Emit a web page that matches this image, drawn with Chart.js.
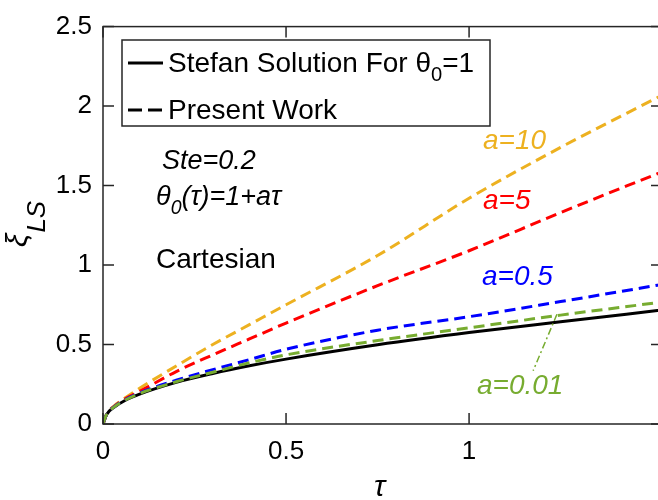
<!DOCTYPE html>
<html>
<head>
<meta charset="utf-8">
<script src="https://cdn.jsdelivr.net/npm/chart.js@4/dist/chart.umd.min.js"></script>
<style>
  html, body { margin: 0; padding: 0; background: #fff; overflow: hidden; }
  #wrap { width: 662px; height: 500px; }
</style>
</head>
<body>
<div id="wrap"><canvas id="c" width="662" height="500"></canvas></div>
<script>
// values
const tau = [0, 0.01, 0.03, 0.06, 0.1, 0.2, 0.3, 0.4, 0.5, 0.75, 1.0, 1.25, 1.52];
const stefan = [0, 0.06, 0.105, 0.148, 0.188, 0.262, 0.318, 0.366, 0.408, 0.498, 0.575, 0.643, 0.715];
const a10 = [0, 0.062, 0.113, 0.163, 0.225, 0.365, 0.5, 0.625, 0.75, 1.06, 1.42, 1.74, 2.06];
const a5 = [0, 0.062, 0.11, 0.157, 0.205, 0.33, 0.435, 0.535, 0.635, 0.87, 1.09, 1.33, 1.58];
const a05 = [0, 0.061, 0.107, 0.152, 0.195, 0.275, 0.342, 0.405, 0.47, 0.59, 0.675, 0.77, 0.875];
const a001 = [0, 0.061, 0.106, 0.15, 0.192, 0.266, 0.326, 0.385, 0.435, 0.525, 0.605, 0.685, 0.765];
const xTicks = [0, 0.5, 1];
const yTicks = [0, 0.5, 1, 1.5, 2, 2.5];

const FONT = "'Liberation Sans', Arial, sans-serif";
const ORANGE = "#EDB120", RED = "#FF0000", BLUE = "#0000FF", GREEN = "#77AC30";

const pts = (ys) => tau.map((t, i) => ({ x: t, y: ys[i] }));
const dashed = (label, ys, color) => ({
    label: label,
    data: pts(ys),
    borderColor: color,
    borderWidth: 3,
    borderDash: [11, 6],
    pointRadius: 0,
    fill: false,
    cubicInterpolationMode: "monotone",
});

// draw text made of runs, some of them subscripts
function runs(ctx, x, y, parts, size, italic, color) {
    ctx.fillStyle = color;
    ctx.textBaseline = "alphabetic";
    ctx.textAlign = "left";
    parts.forEach((p) => {
        const s = p.sub ? size * 0.72 : size;
        ctx.font = (italic ? "italic " : "") + s + "px " + FONT;
        ctx.fillText(p.t, x, y + (p.sub ? size * 0.32 : 0));
        x += ctx.measureText(p.t).width;
    });
}

const decor = {
    id: "decor",
    afterDraw(chart) {
        const ctx = chart.ctx;
        const a = chart.chartArea;
        const xs = chart.scales.x, ys = chart.scales.y;
        ctx.save();
        // box and inward ticks
        ctx.strokeStyle = "#262626";
        ctx.lineWidth = 1.5;
        ctx.strokeRect(a.left, a.top, a.right - a.left, a.bottom - a.top);
        ctx.beginPath();
        xTicks.forEach((v) => {
            const px = xs.getPixelForValue(v);
            ctx.moveTo(px, a.bottom); ctx.lineTo(px, a.bottom - 11);
            ctx.moveTo(px, a.top); ctx.lineTo(px, a.top + 11);
        });
        yTicks.forEach((v) => {
            const py = ys.getPixelForValue(v);
            ctx.moveTo(a.left, py); ctx.lineTo(a.left + 11, py);
            ctx.moveTo(a.right, py); ctx.lineTo(a.right - 11, py);
        });
        ctx.stroke();

        // legend
        ctx.fillStyle = "#fff";
        ctx.fillRect(122, 40, 368, 86);
        ctx.strokeStyle = "#262626";
        ctx.lineWidth = 1.5;
        ctx.strokeRect(122, 40, 368, 86);
        ctx.strokeStyle = "#000";
        ctx.lineWidth = 2.8;
        ctx.beginPath(); ctx.moveTo(128, 63); ctx.lineTo(163, 63); ctx.stroke();
        ctx.setLineDash([14, 6]);
        ctx.beginPath(); ctx.moveTo(128, 110); ctx.lineTo(163, 110); ctx.stroke();
        ctx.setLineDash([]);
        runs(ctx, 168, 72, [{ t: "Stefan Solution For \u03b8" }, { t: "0", sub: true }, { t: "=1" }], 28, false, "#000");
        runs(ctx, 168, 119, [{ t: "Present Work" }], 28, false, "#000");

        // annotations
        runs(ctx, 162, 169, [{ t: "Ste=0.2" }], 27, true, "#000");
        runs(ctx, 156, 205, [{ t: "\u03b8" }, { t: "0", sub: true }, { t: "(\u03c4)=1+a\u03c4" }], 27, true, "#000");
        runs(ctx, 156, 268, [{ t: "Cartesian" }], 28, false, "#000");
        runs(ctx, 483, 149, [{ t: "a=10" }], 28, true, ORANGE);
        runs(ctx, 483, 209, [{ t: "a=5" }], 28, true, RED);
        runs(ctx, 482, 285, [{ t: "a=0.5" }], 28, true, BLUE);
        runs(ctx, 477, 394, [{ t: "a=0.01" }], 28, true, GREEN);

        // pointer to the a=0.01 curve
        ctx.strokeStyle = GREEN;
        ctx.lineWidth = 1.5;
        ctx.setLineDash([7, 3, 2, 3]);
        ctx.beginPath();
        ctx.moveTo(xs.getPixelForValue(1.24), ys.getPixelForValue(0.69));
        ctx.lineTo(xs.getPixelForValue(1.175), ys.getPixelForValue(0.335));
        ctx.stroke();
        ctx.setLineDash([]);

        // axis titles
        runs(ctx, 374, 496, [{ t: "\u03c4" }], 30, true, "#000");
        ctx.translate(27, 247);
        ctx.rotate(-Math.PI / 2);
        ctx.fillStyle = "#000";
        ctx.font = "italic 30px " + FONT;
        ctx.fillText("\u03be", 0, 0);
        const w = ctx.measureText("\u03be").width;
        ctx.font = "italic 26px " + FONT;
        ctx.fillText("LS", w + 1, 18);
        ctx.restore();
    },
};

new Chart(document.getElementById("c").getContext("2d"), {
    type: "line",
    data: {
        datasets: [
            dashed("a=0.01", a001, GREEN),
            dashed("a=0.5", a05, BLUE),
            dashed("a=5", a5, RED),
            dashed("a=10", a10, ORANGE),
            {
                label: "Stefan",
                data: pts(stefan),
                borderColor: "#000",
                borderWidth: 3,
                pointRadius: 0,
                fill: false,
                cubicInterpolationMode: "monotone",
            },
        ],
    },
    options: {
        responsive: false,
        animation: false,
        layout: { padding: { top: 21, left: 0, right: 0, bottom: 0 } },
        plugins: { legend: { display: false }, tooltip: { enabled: false } },
        scales: {
            x: {
                type: "linear",
                min: 0,
                max: 1.527,
                afterBuildTicks: (s) => { s.ticks = xTicks.map((v) => ({ value: v })); },
                afterFit: (s) => { s.height = 76; },
                ticks: { font: { family: FONT, size: 26 }, color: "#000", padding: 12,
                    callback: (v) => String(v) },
                grid: { display: false, drawTicks: false },
                border: { display: false },
            },
            y: {
                min: 0,
                max: 2.5,
                afterBuildTicks: (s) => { s.ticks = yTicks.map((v) => ({ value: v })); },
                afterFit: (s) => { s.width = 103; },
                ticks: { font: { family: FONT, size: 26 }, color: "#000", padding: 11,
                    callback: (v) => String(v) },
                grid: { display: false, drawTicks: false },
                border: { display: false },
            },
        },
    },
    plugins: [decor],
});
</script>
</body>
</html>
